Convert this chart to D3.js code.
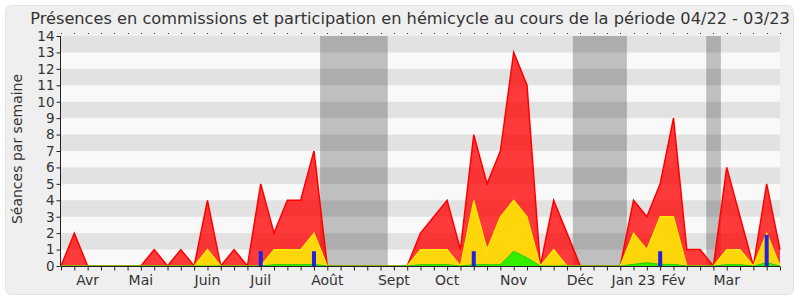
<!DOCTYPE html>
<html>
<head>
<meta charset="utf-8">
<script src="https://cdn.jsdelivr.net/npm/d3@7"></script>
<style>
  body { margin: 0; background: #fff; }
  text { font-family: "DejaVu Sans", sans-serif; fill: #333; }
</style>
</head>
<body>
<script>
// weekly values, week 0 = end of March 2022
var total   = [0,2,0,0,0,0,0,1,0,1,0,4,0,1,0,5,2,4,4,7,0,0,0,0,0,0,0,2,3,4,1,8,5,7,13,11,0,4,2,0,0,0,0,4,3,5,9,1,1,0,6,3,0,5,1];
var hemi    = [0,0,0,0,0,0,0,0,0,0,0,1,0,0,0,0,1,1,1,2,0,0,0,0,0,0,0,1,1,1,0,4,1,3,4,3,0,1,0,0,0,0,0,2,1,3,3,0,0,0,1,1,0,2,0];
var green   = [0,0,0,0,0,0,0,0,0,0,0,0,0,0,0,0,0.08,0.08,0.08,0.1,0,0,0,0,0,0,0,0.08,0.08,0.08,0,0.08,0.08,0.08,0.9,0.5,0,0,0,0,0,0,0,0.1,0.2,0.1,0.1,0,0,0,0.08,0.08,0,0.2,0];
var blueWeeks = [15,19,31,45,53];
var blueVals  = [0.9,0.9,0.9,0.9,1.9];
var vacStart = [19.46,38.44,48.46];
var vacEnd   = [24.54,42.5,49.56];
var monthLabels = ["Avr","Mai","Juin","Juil","Août","Sept","Oct","Nov","Déc","Jan 23","Fév","Mar"];
var monthWeeks  = [2,6,11,15,20,25,29,34,39,43,46,50];

var W = 800, H = 300;
var svg = d3.select("body").append("svg").attr("width", W).attr("height", H);

// panel
svg.append("rect").attr("x", 5.5).attr("y", 5.5).attr("width", 788).attr("height", 289)
  .attr("rx", 6).attr("fill", "#efefef").attr("stroke", "#e2e2e2");

var x = d3.scaleLinear().domain([0, 54]).range([61, 780]);
var y = d3.scaleLinear().domain([0, 14]).range([266, 36]);

var plot = svg.append("g");
plot.append("rect").attr("x", x(0)).attr("y", y(14)).attr("width", x(54) - x(0)).attr("height", y(0) - y(14)).attr("fill", "#f9f9f9");

// vacations
plot.selectAll("rect.vac").data(vacStart).enter().append("rect").attr("class", "vac")
  .attr("x", function(d) { return x(d); })
  .attr("y", y(14))
  .attr("width", function(d, i) { return x(vacEnd[i]) - x(d); })
  .attr("height", y(0) - y(14))
  .attr("fill", "#bfbfbf");

// stripes
var stripes = d3.range(1, 14, 2);
plot.selectAll("rect.stripe").data(stripes).enter().append("rect").attr("class", "stripe")
  .attr("x", x(0)).attr("width", x(54) - x(0))
  .attr("y", function(d) { return y(d + 1); })
  .attr("height", function(d) { return y(d) - y(d + 1); })
  .attr("fill", "rgba(0,0,0,0.09)");

function area(vals) {
  return d3.area().x(function(d, i) { return x(i); }).y0(y(0)).y1(function(d) { return y(d); })(vals);
}
function line(vals) {
  return d3.line().x(function(d, i) { return x(i); }).y(function(d) { return y(d); })(vals);
}
plot.append("path").attr("d", area(total)).attr("fill", "rgba(255,0,0,0.77)");
plot.append("path").attr("d", line(total)).attr("fill", "none").attr("stroke", "#ff0000").attr("stroke-width", 1.5);
plot.append("path").attr("d", area(hemi)).attr("fill", "#ffd60a");
plot.append("path").attr("d", line(hemi)).attr("fill", "none").attr("stroke", "#ffee00").attr("stroke-width", 1.2);
plot.append("path").attr("d", area(green)).attr("fill", "#33ee00");
plot.append("path").attr("d", line(green)).attr("fill", "none").attr("stroke", "#22cc00").attr("stroke-width", 1);

plot.selectAll("rect.blue").data(blueWeeks).enter().append("rect").attr("class", "blue")
  .attr("x", function(d) { return x(d) - 2; })
  .attr("width", 4)
  .attr("y", function(d, i) { return y(blueVals[i]); })
  .attr("height", function(d, i) { return y(0) - y(blueVals[i]); })
  .attr("fill", "#2222dd");

// axes
var yAxis = svg.append("g").attr("transform", "translate(" + (x(0) - 0.5) + ",0)")
  .call(d3.axisLeft(y).ticks(14).tickSize(4).tickPadding(2).tickFormat(d3.format("d")));
yAxis.selectAll("text").style("font-size", "13.5px").attr("fill", "#333");
yAxis.selectAll("line, path").attr("stroke", "#222");
yAxis.select("path").attr("d", "M0," + y(14) + "V" + y(0));

var xAxis = svg.append("g").attr("transform", "translate(0," + (y(0) + 0.5) + ")")
  .call(d3.axisBottom(x).tickValues(d3.range(0, 55)).tickSize(4).tickFormat(""));
xAxis.selectAll("line, path").attr("stroke", "#222");
xAxis.select("path").attr("d", "M" + x(0) + ",0H" + x(54));

// top dotted ticks
svg.append("g").selectAll("rect").data(d3.range(0, 55)).enter().append("rect")
  .attr("x", function(d) { return Math.round(x(d)); }).attr("y", 33).attr("width", 1).attr("height", 1).attr("fill", "#333");

svg.append("g").selectAll("text").data(monthLabels).enter().append("text")
  .attr("x", function(d, i) { return x(monthWeeks[i]); })
  .attr("y", 285)
  .attr("text-anchor", "middle")
  .style("font-size", "14px")
  .text(function(d) { return d; });

svg.append("text").attr("x", 410).attr("y", 24).attr("text-anchor", "middle")
  .style("font-size", "16.2px")
  .text("Présences en commissions et participation en hémicycle au cours de la période 04/22 - 03/23");

svg.append("text").attr("transform", "translate(22,149) rotate(-90)").attr("text-anchor", "middle")
  .style("font-size", "14px")
  .text("Séances par semaine");
</script>
</body>
</html>
